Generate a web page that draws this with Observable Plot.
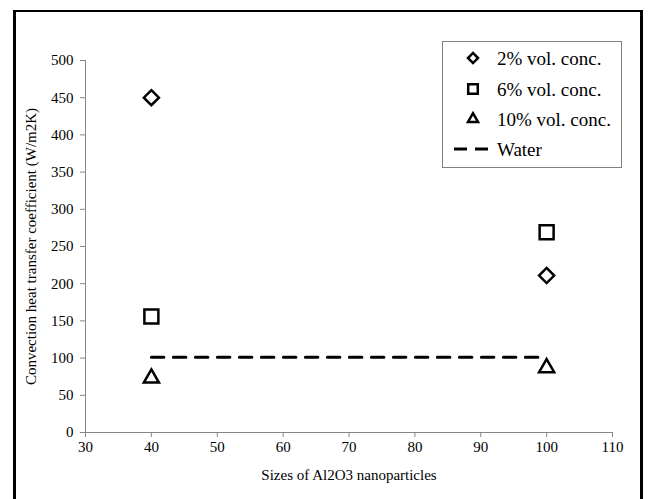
<!DOCTYPE html>
<html><head><meta charset="utf-8">
<script src="https://cdn.jsdelivr.net/npm/d3@7"></script>
<script src="https://cdn.jsdelivr.net/npm/@observablehq/plot@0.6"></script>
<style>
body{margin:0;background:#fff;overflow:hidden;font-family:'Liberation Serif','Times New Roman','DejaVu Serif',serif}
#wrap{position:relative;width:648px;height:499px;overflow:hidden}
#frame{position:absolute;left:13px;top:10px;width:630px;height:520px;border:3px solid #000;border-top-width:2.5px;border-bottom:none;box-sizing:border-box;pointer-events:none}
#chart{position:absolute;left:0;top:0}
#legend{position:absolute;left:442px;top:41px}
svg text{font-family:'Liberation Serif','Times New Roman','DejaVu Serif',serif !important}
</style></head><body><div id="wrap"><div id="chart"></div><div id="frame"></div><div id="legend"></div></div>
<script>
const sizes = [40, 100];
const conc2 = [450, 211];
const conc6 = [156, 269];
const conc10 = [73, 87];
const water = [101, 101];
const seriesNames = ["2% vol. conc.", "6% vol. conc.", "10% vol. conc.", "Water"];
const xTicks = [30, 40, 50, 60, 70, 80, 90, 100, 110];
const yTicks = [0, 50, 100, 150, 200, 250, 300, 350, 400, 450, 500];

const pts = (vals, name) => sizes.map((s, i) => ({size: s, value: vals[i], series: name}));
const d2 = pts(conc2, seriesNames[0]);
const d6 = pts(conc6, seriesNames[1]);
const d10 = pts(conc10, seriesNames[2]);
const dw = pts(water, seriesNames[3]);

const serif = "'Liberation Serif','Times New Roman','DejaVu Serif',serif";
const axisGray = "#868686";
const chart = Plot.plot({
  width: 648, height: 499,
  marginLeft: 85, marginRight: 36, marginTop: 60, marginBottom: 67,
  style: {fontFamily: serif, fontSize: "15px", color: "#000", background: "transparent"},
  x: {domain: [30, 110]},
  y: {domain: [0, 500]},
  marks: [
    Plot.ruleY([0], {x1: 30, x2: 110, stroke: axisGray}),
    Plot.ruleX([30], {y1: 0, y2: 500, stroke: axisGray}),
    Plot.axisX({ticks: xTicks, tickSize: 5, tickPadding: 4, stroke: axisGray, fill: "#000",
      label: "Sizes of Al2O3 nanoparticles", labelAnchor: "center", labelArrow: "none", labelOffset: 47}),
    Plot.axisY({ticks: yTicks, tickSize: 5, tickPadding: 7, stroke: axisGray, fill: "#000",
      label: "Convection heat transfer coefficient (W/m2K)", labelAnchor: "center", labelArrow: "none", labelOffset: 60}),
    Plot.line(dw, {x: "size", y: "value", stroke: "#000", strokeWidth: 3, strokeDasharray: "12.5,9.5"}),
    Plot.dot(d2, {x: "size", y: "value", symbol: "diamond2", r: 6.8, stroke: "#000", strokeWidth: 2.5, fill: "none"}),
    Plot.dot(d6, {x: "size", y: "value", symbol: "square2", r: 8.9, stroke: "#000", strokeWidth: 2.5, fill: "none"}),
    Plot.dot(d10, {x: "size", y: "value", symbol: "triangle2", r: 7.2, stroke: "#000", strokeWidth: 2.5, fill: "none"})
  ]
});
document.getElementById("chart").appendChild(chart);

// legend
const lw = 180, lh = 127;
const leg = d3.select("#legend").append("svg").attr("width", lw).attr("height", lh)
  .attr("font-family", serif);
leg.append("rect").attr("x", 0.5).attr("y", 0.5).attr("width", lw - 1).attr("height", lh - 1)
  .attr("fill", "#fff").attr("stroke", "#808080");
const rows = [17, 48, 78, 108];
const syms = [[d3.symbolDiamond2, 64], [d3.symbolSquare2, 117], [d3.symbolTriangle2, 72]];
syms.forEach(([s, size], i) => {
  leg.append("path").attr("d", d3.symbol(s, size)()).attr("transform", `translate(31,${rows[i]})`)
    .attr("fill", "none").attr("stroke", "#000").attr("stroke-width", 2.5);
});
leg.append("line").attr("x1", 12).attr("x2", 51).attr("y1", rows[3]).attr("y2", rows[3])
  .attr("stroke", "#000").attr("stroke-width", 3).attr("stroke-dasharray", "13,8");
seriesNames.forEach((n, i) => {
  leg.append("text").attr("x", 55).attr("y", rows[i]).attr("dy", "0.35em")
    .attr("font-size", 19).attr("fill", "#000").text(n);
});
</script></body></html>
